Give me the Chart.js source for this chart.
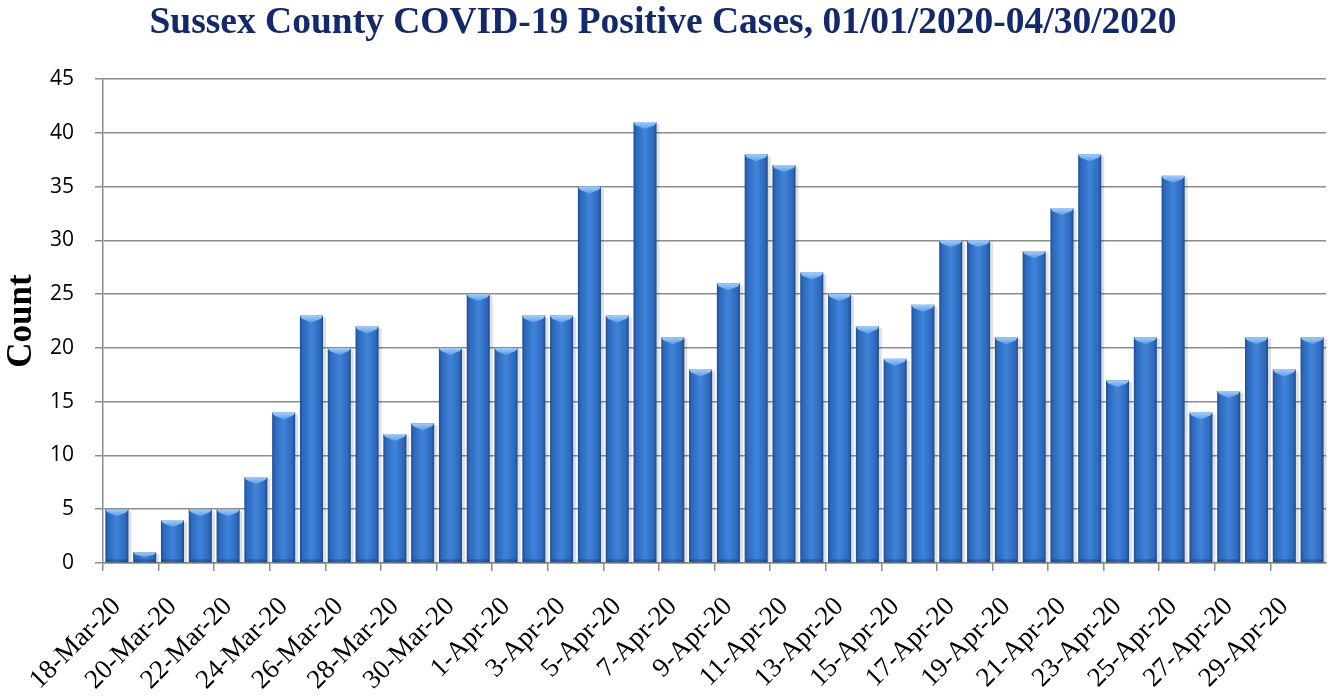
<!DOCTYPE html>
<html><head><meta charset="utf-8">
<script src="https://cdn.jsdelivr.net/npm/chart.js@4"></script>
<style>html,body{margin:0;padding:0;background:#fff;}canvas{display:block;}</style>
</head><body>
<canvas id="c" width="1334" height="697"></canvas>
<script>
const categories = ["18-Mar-20","19-Mar-20","20-Mar-20","21-Mar-20","22-Mar-20","23-Mar-20","24-Mar-20","25-Mar-20","26-Mar-20","27-Mar-20","28-Mar-20","29-Mar-20","30-Mar-20","31-Mar-20",
"1-Apr-20","2-Apr-20","3-Apr-20","4-Apr-20","5-Apr-20","6-Apr-20","7-Apr-20","8-Apr-20","9-Apr-20","10-Apr-20","11-Apr-20","12-Apr-20","13-Apr-20","14-Apr-20","15-Apr-20","16-Apr-20","17-Apr-20","18-Apr-20","19-Apr-20","20-Apr-20","21-Apr-20","22-Apr-20","23-Apr-20","24-Apr-20","25-Apr-20","26-Apr-20","27-Apr-20","28-Apr-20","29-Apr-20","30-Apr-20"];
const counts = [5,1,4,5,5,8,14,23,20,22,12,13,20,25,20,23,23,35,23,41,21,18,26,38,37,27,25,22,19,24,30,30,21,29,33,38,17,21,36,14,16,21,18,21];
const yTicks = [0,5,10,15,20,25,30,35,40,45];
const titleText = "Sussex County COVID-19 Positive Cases, 01/01/2020-04/30/2020";
const yTitle = "Count";

function barFill(ctx){
  const chart = ctx.chart;
  const xs = chart.scales && chart.scales.x;
  if(!chart.chartArea || !xs || ctx.dataIndex===undefined) return '#2f6fc5';
  const cx = xs.getPixelForValue(ctx.dataIndex);
  if(!isFinite(cx)) return '#2f6fc5';
  const w = 23;
  const g = chart.ctx.createLinearGradient(cx-w/2,0,cx+w/2,0);
  g.addColorStop(0,'#1d4f95');
  g.addColorStop(0.12,'#2d68bb');
  g.addColorStop(0.5,'#3f84da');
  g.addColorStop(0.88,'#2d68bb');
  g.addColorStop(1,'#1b4a8c');
  return g;
}

const bevelPlugin = {
  id:'bevel',
  beforeDatasetsDraw(chart){
    const c = chart.ctx;
    const meta = chart.getDatasetMeta(0);
    c.save();
    meta.data.forEach(b=>{
      const w=b.width, x0=b.x-w/2;
      c.fillStyle='rgba(0,0,0,0.12)';
      c.fillRect(x0+3,b.y+2,w,b.base-b.y-1);
    });
    c.restore();
  },
  afterDatasetsDraw(chart){
    const c = chart.ctx;
    const meta = chart.getDatasetMeta(0);
    c.save();
    meta.data.forEach(b=>{
      const w=b.width, x0=b.x-w/2, x1=b.x+w/2, t=b.y, h=b.base-b.y;
      const bv=Math.min(7,h/2);
      const g=c.createLinearGradient(0,t,0,t+bv);
      g.addColorStop(0,'#a3cdf8');g.addColorStop(1,'#5c9ce8');
      c.fillStyle=g;
      c.beginPath();
      c.moveTo(x0,t);c.lineTo(x1,t);c.lineTo(x1-2,t+bv*0.45);c.lineTo(b.x,t+bv);c.lineTo(x0+2,t+bv*0.45);c.closePath();c.fill();
      const bb=Math.min(3,h/3);
      c.fillStyle='rgba(15,45,95,0.35)';
      c.beginPath();
      c.moveTo(x0,b.base);c.lineTo(x1,b.base);c.lineTo(x1-2,b.base-bb);c.lineTo(x0+2,b.base-bb);c.closePath();c.fill();
    });
    c.restore();
  }
};

new Chart(document.getElementById('c'),{
  type:'bar',
  data:{labels:categories,datasets:[{data:counts,backgroundColor:barFill,borderWidth:0,categoryPercentage:1,barPercentage:0.83}]},
  options:{
    responsive:false,animation:false,
    layout:{padding:{left:0,right:8,top:0,bottom:0}},
    plugins:{
      legend:{display:false},tooltip:{enabled:false},
      title:{display:true,text:titleText,color:'#14296a',font:{family:'Liberation Serif',size:37.5,weight:'bold'},padding:{top:1,bottom:33}}
    },
    scales:{
      x:{
        offset:true,
        grid:{offset:true,drawOnChartArea:false,drawTicks:true,tickLength:8,color:(ctx)=>ctx.index%2===0?'#8c8c8c':'rgba(0,0,0,0)',lineWidth:1.5},
        border:{display:true,color:'#8c8c8c',width:1.5},
        ticks:{autoSkip:false,minRotation:45,maxRotation:45,labelOffset:0,padding:20,color:'#000',
          font:{family:'Liberation Serif',size:27},
          callback:function(v,i){return i%2===0?categories[i]:'';}},
        afterFit:(s)=>{s.height=134;s.paddingRight=0;s.paddingLeft=0;}
      },
      y:{
        min:0,max:45,
        afterBuildTicks:(s)=>{s.ticks=yTicks.map(v=>({value:v}));},
        grid:{color:'#8c8c8c',lineWidth:1.5,tickLength:8},
        border:{display:true,color:'#8c8c8c',width:1.5},
        ticks:{color:'#000',padding:21,font:{family:'Open Sans',size:21}},
        title:{display:true,text:yTitle,color:'#000',font:{family:'Liberation Serif',size:35,weight:'bold'},padding:{top:1,bottom:0}},
        afterFit:(s)=>{s.width=103;}
      }
    }
  },
  plugins:[bevelPlugin]
});
</script>
</body></html>
